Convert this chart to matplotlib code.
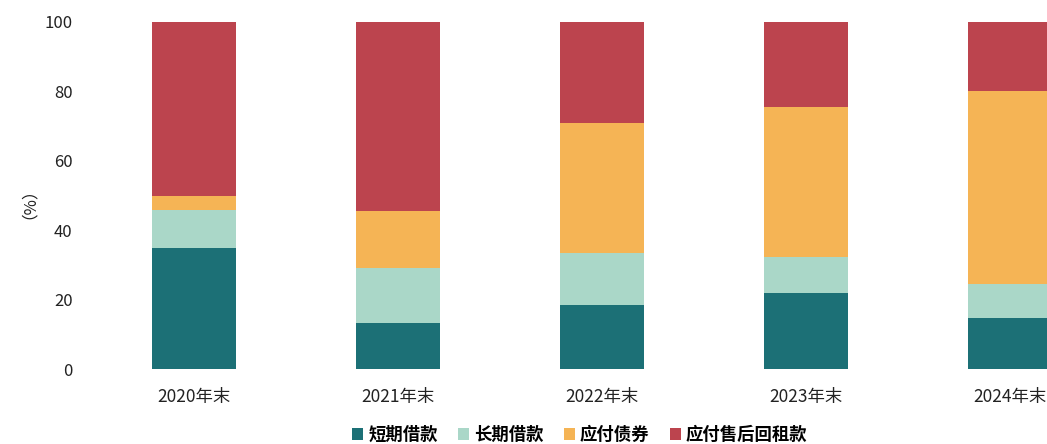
import matplotlib
matplotlib.use("Agg")
import matplotlib.pyplot as plt
import numpy as np

plt.rcParams['font.family'] = ['Noto Sans CJK SC', 'DejaVu Sans']

# Debt structure by year end (%)
YEARS = ['2020年末', '2021年末', '2022年末', '2023年末', '2024年末']
SHORT_LOAN = [34.8, 13.3, 18.3, 22.0, 14.7]
LONG_LOAN = [10.9, 15.7, 15.0, 10.3, 9.9]
BONDS = [4.3, 16.5, 37.7, 43.3, 55.5]
LEASEBACK = [50.0, 54.5, 29.0, 24.4, 19.9]

SERIES = [
    ('短期借款', SHORT_LOAN, '#1c7076'),
    ('长期借款', LONG_LOAN, '#aad7c8'),
    ('应付债券', BONDS, '#f5b455'),
    ('应付售后回租款', LEASEBACK, '#bc444e'),
]

fig = plt.figure(figsize=(10.47, 4.44), dpi=100)
ax = fig.add_axes([85 / 1047, 75 / 444, 1 - 85 / 1047, 347 / 444])

x = np.arange(len(YEARS))
bottom = np.zeros(len(YEARS))
for name, vals, color in SERIES:
    vals = np.array(vals)
    ax.bar(x, vals, width=0.41, bottom=bottom, color=color, label=name)
    bottom += vals

ax.set_xlim(-0.534, 4.18)
ax.set_ylim(0, 100)
ax.set_yticks([0, 20, 40, 60, 80, 100])
ax.set_xticks(x)
ax.set_xticklabels(YEARS)
ax.tick_params(axis='both', length=0, colors='#222222')
ax.tick_params(axis='x', pad=14, labelsize=12.5)
ax.tick_params(axis='y', pad=9, labelsize=12)
for s in ax.spines.values():
    s.set_visible(False)

fig.text(20 / 1047, 0.561, '（%）', rotation=90, ha='center', va='center',
         fontsize=12, color='#222222')

handles, labels = ax.get_legend_handles_labels()
fig.legend(handles, labels, ncol=4, loc='center', bbox_to_anchor=(0.554, 0.02),
           frameon=False, handlelength=0.6, handleheight=0.6, handletextpad=0.3,
           columnspacing=1.2, prop={'size': 12.5, 'weight': 'bold'})

fig.savefig('out.png', dpi=100)
